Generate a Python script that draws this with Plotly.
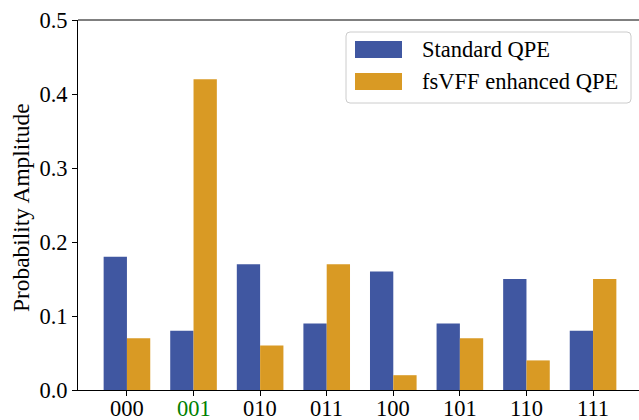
import plotly.graph_objects as go

categories = ["000", "001", "010", "011", "100", "101", "110", "111"]
standard_qpe = [0.18, 0.08, 0.17, 0.09, 0.16, 0.09, 0.15, 0.08]
fsvff_qpe = [0.07, 0.42, 0.06, 0.17, 0.02, 0.07, 0.04, 0.15]
series_names = ["Standard QPE", "fsVFF enhanced QPE"]
highlight = "001"
y_ticks = [0.0, 0.1, 0.2, 0.3, 0.4, 0.5]

BLUE = "rgb(64,87,161)"
ORANGE = "rgb(217,154,36)"
GREEN = "#008000"
FONT = "Liberation Serif, Times New Roman, serif"
FS = 22.5

W, H = 639, 420
L, R, T, B = 78, 0, 20, 30
PW, PH = W - L - R, H - T - B

xs = list(range(len(categories)))
fig = go.Figure()
fig.add_trace(go.Bar(x=xs, y=standard_qpe, name=series_names[0], marker_color=BLUE,
                     marker_line_width=0, showlegend=False, hoverinfo="skip"))
fig.add_trace(go.Bar(x=xs, y=fsvff_qpe, name=series_names[1], marker_color=ORANGE,
                     marker_line_width=0, showlegend=False, hoverinfo="skip"))

fig.update_layout(
    template="none",
    width=W, height=H,
    margin=dict(l=L, r=R, t=T, b=B, pad=0, autoexpand=False),
    paper_bgcolor="white", plot_bgcolor="white",
    barmode="group", bargap=0.3, bargroupgap=0,
    font=dict(family=FONT, size=FS, color="black"),
    xaxis=dict(range=[-0.735, 7.69], tickmode="array", tickvals=xs, showticklabels=False,
               automargin=False,
               showline=True, linecolor="black", linewidth=1,
               ticks="outside", ticklen=5, tickwidth=1, tickcolor="black",
               showgrid=False, zeroline=False),
    yaxis=dict(range=[0, 0.5001], tickmode="array", tickvals=y_ticks,
               ticktext=[f"{v:.1f}" for v in y_ticks], automargin=False,
               showline=True, linecolor="black", linewidth=1,
               ticks="outside", ticklen=5, tickwidth=1, tickcolor="black",
               showgrid=False, zeroline=False, tickfont=dict(size=FS)),
)

def px(x):
    return (x - L) / PW

def py(y):
    return (H - B - y) / PH

# top spine
fig.add_shape(type="line", xref="paper", yref="paper", x0=0, x1=1, y0=1, y1=1,
              line=dict(color="black", width=1), layer="above")

# x tick labels
for xi, c in zip(xs, categories):
    fig.add_annotation(xref="x", yref="paper", x=xi, y=py(409), text=c, showarrow=False,
                       xanchor="center", yanchor="middle",
                       font=dict(size=FS, family=FONT, color=GREEN if c == highlight else "black"))

# y-axis title
fig.add_annotation(xref="paper", yref="paper", x=px(21), y=py(208), text="Probability Amplitude",
                   textangle=-90, showarrow=False, xanchor="center", yanchor="middle",
                   font=dict(size=23.4, family=FONT, color="black"))

# legend box (rounded)
x0, x1, y0, y1, r = 346, 631, 32, 103, 4
path = (f"M {px(x0 + r)} {py(y0)} L {px(x1 - r)} {py(y0)} Q {px(x1)} {py(y0)} {px(x1)} {py(y0 + r)} "
        f"L {px(x1)} {py(y1 - r)} Q {px(x1)} {py(y1)} {px(x1 - r)} {py(y1)} "
        f"L {px(x0 + r)} {py(y1)} Q {px(x0)} {py(y1)} {px(x0)} {py(y1 - r)} "
        f"L {px(x0)} {py(y0 + r)} Q {px(x0)} {py(y0)} {px(x0 + r)} {py(y0)} Z")
fig.add_shape(type="path", path=path, xref="paper", yref="paper",
              line=dict(color="rgb(204,204,204)", width=1), fillcolor="rgba(255,255,255,0.8)")

for i, (name, col) in enumerate(zip(series_names, [BLUE, ORANGE])):
    cy = 49.5 + 32 * i
    fig.add_shape(type="rect", xref="paper", yref="paper",
                  x0=px(355), x1=px(402), y0=py(cy - 8.5), y1=py(cy + 8.5),
                  fillcolor=col, line_width=0)
    fig.add_annotation(xref="paper", yref="paper", x=px(420), y=py(cy),
                       text=name, showarrow=False, xanchor="left", yanchor="middle",
                       font=dict(size=FS, family=FONT, color="black"))

fig.write_html("out.html", config={"displayModeBar": False, "staticPlot": True},
               post_script="document.body.style.margin='0px';document.body.style.overflow='hidden';")
